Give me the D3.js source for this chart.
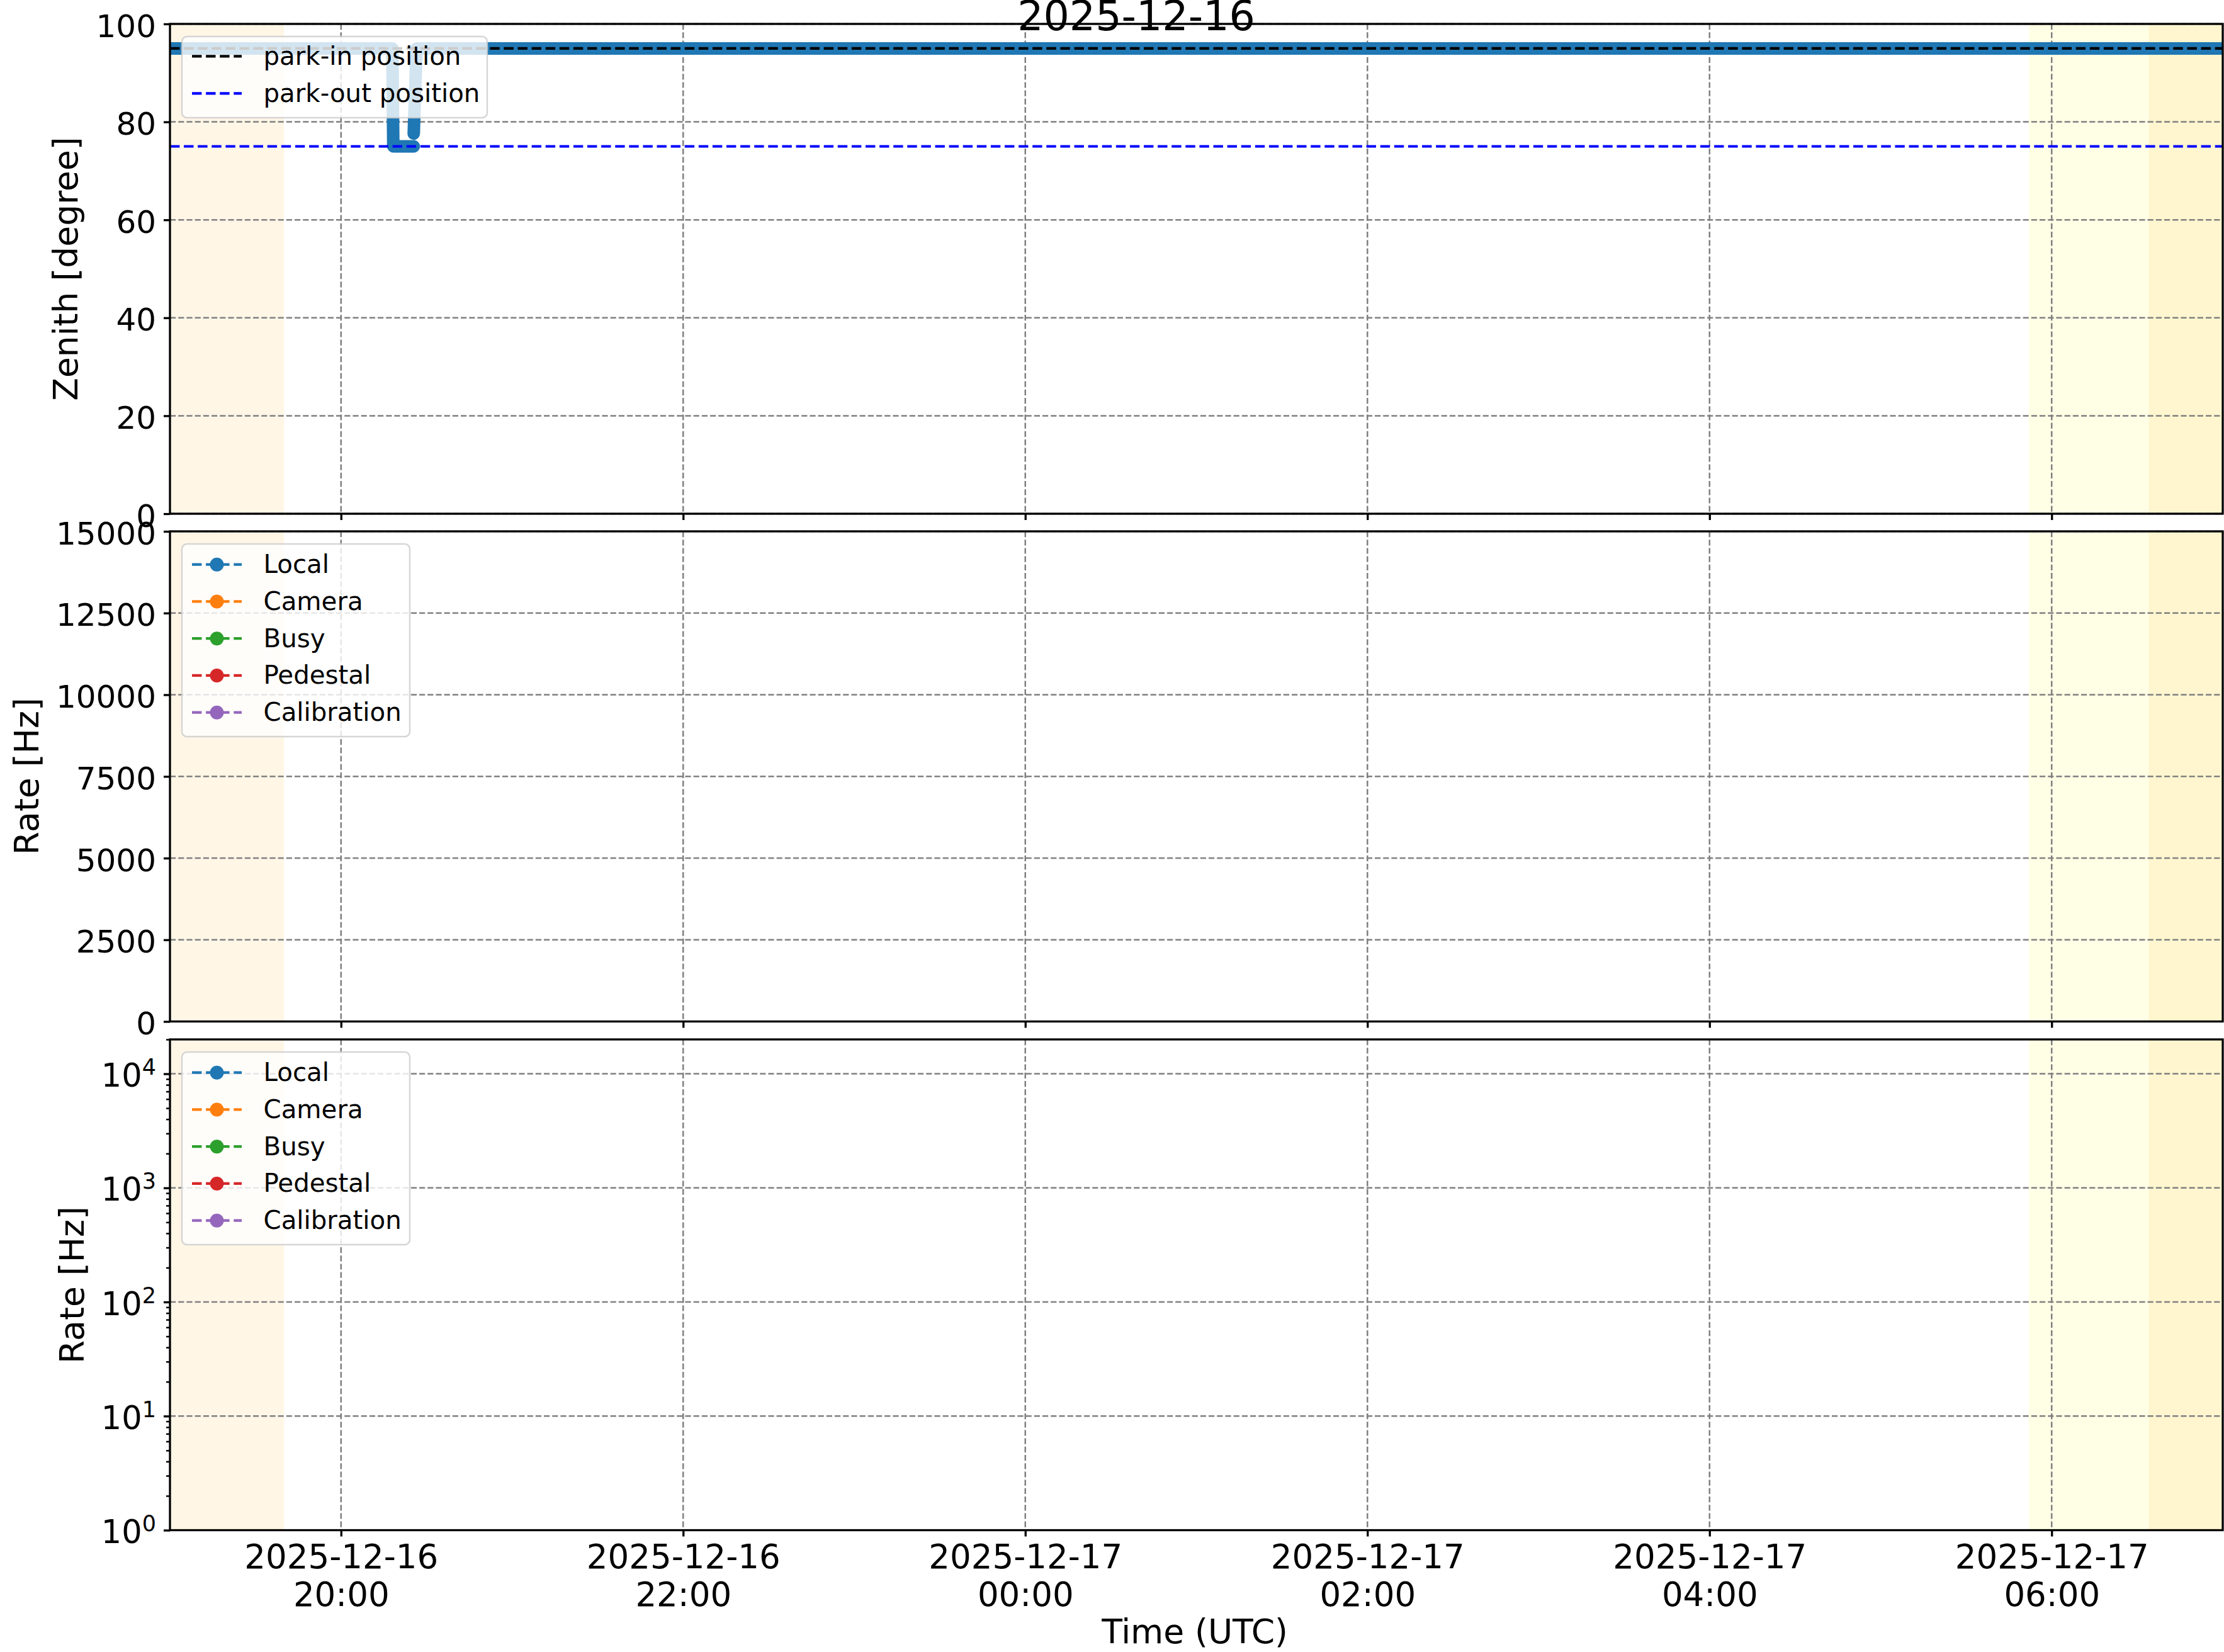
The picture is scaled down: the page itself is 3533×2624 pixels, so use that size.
<!DOCTYPE html>
<html><head><meta charset="utf-8">
<script src="https://cdn.jsdelivr.net/npm/d3@7"></script>
<style>body{margin:0;background:#fff}svg text{font-family:"DejaVu Sans",sans-serif}</style>
</head><body><svg id="c"></svg>
<script>
// ---------------- data ----------------
const titleText = "2025-12-16";
const xDomain = ["2025-12-16T19:00:00Z", "2025-12-17T07:00:00Z"];
const xTickTimes = ["2025-12-16T20:00:00Z","2025-12-16T22:00:00Z","2025-12-17T00:00:00Z","2025-12-17T02:00:00Z","2025-12-17T04:00:00Z","2025-12-17T06:00:00Z"];
const zenithTicks = [0, 20, 40, 60, 80, 100];
const rateTicks = [0, 2500, 5000, 7500, 10000, 12500, 15000];
const logTicks = [1, 10, 100, 1000, 10000];
const logExponents = ["0", "1", "2", "3", "4"];
const zenithTimes = ["2025-12-16T19:00:00Z","2025-12-16T20:18:00Z","2025-12-16T20:18:20Z","2025-12-16T20:25:30Z","2025-12-16T20:25:30Z","2025-12-16T20:25:30Z","2025-12-16T20:26:30Z","2025-12-17T07:00:00Z"];
const zenithValues = [95, 95, 75, 75, null, 77.6, 95, 95];
const parkIn = 95, parkOut = 75;
const shadeStarts = ["2025-12-16T19:00:00Z","2025-12-17T05:52:00Z","2025-12-17T06:34:00Z"];
const shadeEnds   = ["2025-12-16T19:40:00Z","2025-12-17T06:34:00Z","2025-12-17T07:00:00Z"];
const shadeColors = ["#fff6e6","#ffffe6","#fff6cf"];
const rateNames = ["Local","Camera","Busy","Pedestal","Calibration"];
const rateColors = ["#1f77b4","#ff7f0e","#2ca02c","#d62728","#9467bd"];
const rateTimes = [];
const rateLocal = [], rateCamera = [], rateBusy = [], ratePedestal = [], rateCalibration = [];
const rateValues = [rateLocal, rateCamera, rateBusy, ratePedestal, rateCalibration];

// ---------------- layout ----------------
const W = 3533, H = 2624;
const L = 270, R = 3531;
const panels = [
  {y0: 38, y1: 816},
  {y0: 844, y1: 1622.5},
  {y0: 1651, y1: 2430.5}
];
const svg = d3.select("#c").attr("width", W).attr("height", H);
svg.append("rect").attr("width", W).attr("height", H).attr("fill", "#fff");
const defs = svg.append("defs");

const x = d3.scaleUtc().domain(xDomain.map(d => new Date(d))).range([L, R]);
const yScales = [
  d3.scaleLinear().domain([0, 100]).range([panels[0].y1, panels[0].y0]),
  d3.scaleLinear().domain([0, 15000]).range([panels[1].y1, panels[1].y0]),
  d3.scaleLog().domain([1, 20000]).range([panels[2].y1, panels[2].y0])
];
const GRID = "#808080";

function gridDash(g) { g.attr("stroke", GRID).attr("stroke-width", 2.5).attr("stroke-dasharray", "9.2,4"); }

panels.forEach((p, i) => {
  const g = svg.append("g");
  const y = yScales[i];
  defs.append("clipPath").attr("id", "clip" + i).append("rect")
    .attr("x", L).attr("y", p.y0).attr("width", R - L).attr("height", p.y1 - p.y0);
  // shading
  g.selectAll("rect.shade").data(shadeStarts).join("rect")
    .attr("x", (d) => x(new Date(d)))
    .attr("width", (d, k) => x(new Date(shadeEnds[k])) - x(new Date(d)))
    .attr("y", p.y0).attr("height", p.y1 - p.y0)
    .attr("fill", (d, k) => shadeColors[k]);
  // grid
  const xt = xTickTimes.map(d => new Date(d));
  g.selectAll("line.vg").data(xt).join("line")
    .attr("x1", d => x(d)).attr("x2", d => x(d)).attr("y1", p.y0).attr("y2", p.y1).call(gridDash);
  const yt = i === 0 ? zenithTicks : (i === 1 ? rateTicks : logTicks);
  g.selectAll("line.hg").data(yt).join("line")
    .attr("x1", L).attr("x2", R).attr("y1", d => y(d)).attr("y2", d => y(d)).call(gridDash);

  const cg = g.append("g").attr("clip-path", `url(#clip${i})`);
  if (i === 0) {
    const zd = zenithTimes.map((t, k) => ({t: new Date(t), v: zenithValues[k]}));
    const line = d3.line().defined(d => d.v != null).x(d => x(d.t)).y(d => y(d.v));
    cg.append("path").attr("d", line(zd)).attr("fill", "none").attr("stroke", "#1f77b4")
      .attr("stroke-width", 20).attr("stroke-linejoin", "round").attr("stroke-linecap", "round");
    cg.append("line").attr("x1", L).attr("x2", R).attr("y1", y(parkIn)).attr("y2", y(parkIn))
      .attr("stroke", "#000").attr("stroke-width", 4.2).attr("stroke-dasharray", "15.4,6.7");
    cg.append("line").attr("x1", L).attr("x2", R).attr("y1", y(parkOut)).attr("y2", y(parkOut))
      .attr("stroke", "#0000ff").attr("stroke-width", 4.2).attr("stroke-dasharray", "15.4,6.7");
  } else {
    rateNames.forEach((n, k) => {
      const d = rateTimes.map((t, j) => ({t: new Date(t), v: rateValues[k][j]}));
      cg.append("path").attr("d", d3.line().x(e => x(e.t)).y(e => y(e.v))(d) || "")
        .attr("fill", "none").attr("stroke", rateColors[k]).attr("stroke-width", 4.2)
        .attr("stroke-dasharray", "15.4,6.7");
    });
  }

  // axes
  const ya = g.append("g").attr("transform", `translate(${L},0)`);
  if (i === 2) {
    const minor = [];
    for (let e = 0; e <= 4; e++) for (let m = 2; m <= 9; m++) { const v = m * Math.pow(10, e); if (v <= 20000) minor.push(v); }
    ya.append("g").call(d3.axisLeft(y).tickValues(minor).tickSize(6).tickFormat(""))
      .call(s => { s.select(".domain").remove(); s.selectAll(".tick line").attr("stroke", "#000").attr("stroke-width", 2.5); });
    const ma = ya.append("g").call(d3.axisLeft(y).tickValues(logTicks).tickSize(10).tickPadding(12).tickFormat(""));
    ma.select(".domain").remove();
    ma.selectAll(".tick line").attr("stroke", "#000").attr("stroke-width", 3.3);
    ma.selectAll(".tick").each(function(d, k) {
      const t = d3.select(this).append("text").attr("x", -22).attr("y", 20)
        .attr("text-anchor", "end").attr("fill", "#000").attr("font-size", 51);
      t.append("tspan").text("10");
      t.append("tspan").attr("dy", -19).attr("font-size", 35).text(logExponents[k]);
    });
  } else {
    const ax = ya.call(d3.axisLeft(y).tickValues(yt).tickSize(10).tickPadding(12).tickFormat(d3.format("d")));
    ax.select(".domain").remove();
    ax.selectAll(".tick line").attr("stroke", "#000").attr("stroke-width", 3.3);
    ax.selectAll(".tick text").attr("font-size", 50).attr("fill", "#000").attr("dy", "0.4em")
      .attr("font-family", "DejaVu Sans");
  }
  const xa = g.append("g").attr("transform", `translate(0,${p.y1})`)
    .call(d3.axisBottom(x).tickValues(xt).tickSize(10).tickPadding(12).tickFormat(""));
  xa.select(".domain").remove();
  xa.selectAll(".tick line").attr("stroke", "#000").attr("stroke-width", 3.3);
  if (i === 2) {
    xa.selectAll(".tick").each(function(d) {
      const t = d3.select(this).append("text").attr("text-anchor", "middle")
        .attr("fill", "#000").attr("font-size", 53);
      t.append("tspan").attr("x", 0).attr("y", 60).text(d3.utcFormat("%Y-%m-%d")(d));
      t.append("tspan").attr("x", 0).attr("y", 120).text(d3.utcFormat("%H:%M")(d));
    });
  }
  // spines
  g.append("rect").attr("x", L).attr("y", p.y0).attr("width", R - L).attr("height", p.y1 - p.y0)
    .attr("fill", "none").attr("stroke", "#000").attr("stroke-width", 3.3);
});

// ---------------- legends ----------------
function legend(x0, y0, w, h, rows) {
  const g = svg.append("g");
  g.append("rect").attr("x", x0).attr("y", y0).attr("width", w).attr("height", h).attr("rx", 8)
    .attr("fill", "#fff").attr("fill-opacity", 0.8).attr("stroke", "#cccccc").attr("stroke-opacity", 0.8)
    .attr("stroke-width", 2.5);
  rows.forEach(r => {
    g.append("line").attr("x1", 305).attr("x2", 384).attr("y1", r.y).attr("y2", r.y)
      .attr("stroke", r.color).attr("stroke-width", 4.2).attr("stroke-dasharray", "15.4,6.7");
    if (r.marker) g.append("circle").attr("cx", 344.5).attr("cy", r.y).attr("r", 11).attr("fill", r.color);
    g.append("text").attr("x", 418.5).attr("y", r.y + 13.5).attr("font-size", 40.3).attr("fill", "#000").text(r.label);
  });
}
legend(289, 58, 485, 129, [
  {y: 89.3, color: "#000", label: "park-in position"},
  {y: 148.3, color: "#0000ff", label: "park-out position"}
]);
[0, 807].forEach(off => {
  legend(289, 864 + off, 362, 306, rateNames.map((n, k) => ({
    y: 896.7 + off + k * 58.75, color: rateColors[k], label: n, marker: true
  })));
});

// ---------------- labels ----------------
svg.append("text").attr("x", 1805).attr("y", 48).attr("text-anchor", "middle").attr("font-size", 65).text(titleText);
svg.append("text").attr("x", 1898).attr("y", 2610).attr("text-anchor", "middle").attr("font-size", 53.5).text("Time (UTC)");
const yl = [{x: 123, y: 427, t: "Zenith [degree]"}, {x: 61, y: 1233, t: "Rate [Hz]"}, {x: 133, y: 2041, t: "Rate [Hz]"}];
yl.forEach(d => svg.append("text").attr("transform", `translate(${d.x},${d.y}) rotate(-90)`)
  .attr("text-anchor", "middle").attr("font-size", 53.5).text(d.t));
</script></body></html>
